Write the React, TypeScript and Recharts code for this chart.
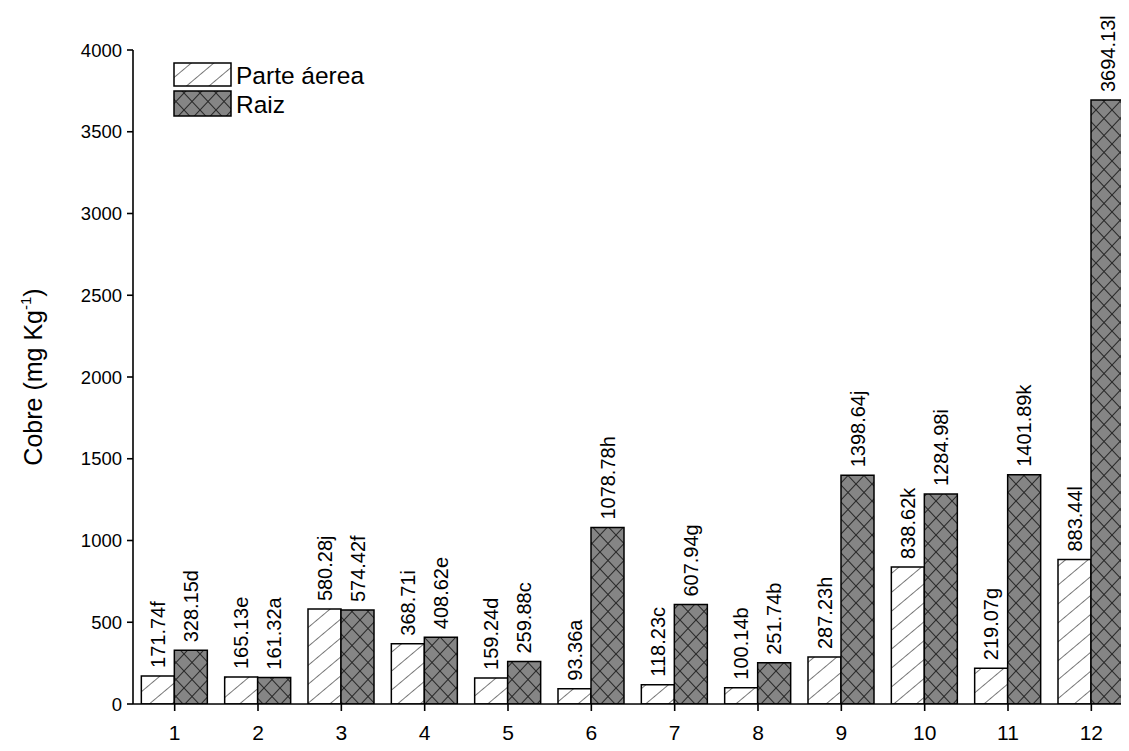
import React from "react";
import { BarChart, Bar, XAxis, YAxis, LabelList } from "recharts";

const categories = ["1", "2", "3", "4", "5", "6", "7", "8", "9", "10", "11", "12"];

const parteValues = [171.74, 165.13, 580.28, 368.71, 159.24, 93.36, 118.23, 100.14, 287.23, 838.62, 219.07, 883.44];
const parteLetters = ["f", "e", "j", "i", "d", "a", "c", "b", "h", "k", "g", "l"];

const raizValues = [328.15, 161.32, 574.42, 408.62, 259.88, 1078.78, 607.94, 251.74, 1398.64, 1284.98, 1401.89, 3694.13];
const raizLetters = ["d", "a", "f", "e", "c", "h", "g", "b", "j", "i", "k", "l"];

const yTicks = [0, 500, 1000, 1500, 2000, 2500, 3000, 3500, 4000];

const FONT = "Arial, 'Liberation Sans', Helvetica, sans-serif";

const data = categories.map((cat, i) => ({
  cat,
  parte: parteValues[i],
  raiz: raizValues[i],
}));

// vertical value + significance letter above each bar
const makeLabel = (letters: string[]) => (props: any) => {
  const { x, y, width, value, index } = props;
  const cx = Number(x) + Number(width) / 2;
  const top = Number(y) - 8;
  return (
    <text
      x={cx}
      y={top}
      transform={`rotate(-90 ${cx} ${top})`}
      dy="0.36em"
      textAnchor="start"
      fontSize={20}
      fontFamily={FONT}
      fill="#000"
    >
      {Number(value).toFixed(2) + letters[index]}
    </text>
  );
};

export default function App() {
  return (
    <div style={{ width: 1121, height: 743, fontFamily: FONT }}>
      <BarChart
        width={1121}
        height={743}
        data={data}
        margin={{ top: 42, right: 0, bottom: 7, left: 0 }}
        barCategoryGap="10%"
        barGap={0}
      >
        <defs>
          <pattern
            id="hatchParte"
            patternUnits="userSpaceOnUse"
            width={14.5}
            height={14.5}
            patternTransform="rotate(50)"
          >
            <rect width={14.5} height={14.5} fill="#fff" />
            <line x1={0} y1={0} x2={0} y2={14.5} stroke="#333" strokeWidth={1.3} />
          </pattern>
          <pattern id="hatchRaiz" patternUnits="userSpaceOnUse" width={16} height={17}>
            <rect width={16} height={17} fill="#858585" />
            <line x1={0} y1={0} x2={16} y2={17} stroke="#2a2a2a" strokeWidth={1.1} />
            <line x1={16} y1={0} x2={0} y2={17} stroke="#2a2a2a" strokeWidth={1.1} />
          </pattern>
        </defs>

        <XAxis
          dataKey="cat"
          height={40}
          padding={{ left: 0, right: -4 }}
          axisLine={{ stroke: "#000", strokeWidth: 1.6 }}
          tickLine={{ stroke: "#000", strokeWidth: 1.6 }}
          tickSize={7}
          tickMargin={14}
          tick={{ fill: "#000", fontSize: 21, fontFamily: FONT }}
          interval={0}
        />
        <YAxis
          width={125}
          domain={[0, 4000]}
          ticks={yTicks}
          allowDataOverflow
          axisLine={{ stroke: "#000", strokeWidth: 1.6 }}
          tickLine={{ stroke: "#000", strokeWidth: 1.6 }}
          tickSize={6}
          tickMargin={5}
          tick={{ fill: "#000", fontSize: 18.5, fontFamily: FONT }}
        />

        <Bar dataKey="parte" fill="url(#hatchParte)" stroke="#000" strokeWidth={1.5} isAnimationActive={false}>
          <LabelList dataKey="parte" content={makeLabel(parteLetters)} />
        </Bar>
        <Bar dataKey="raiz" fill="url(#hatchRaiz)" stroke="#000" strokeWidth={1.5} isAnimationActive={false}>
          <LabelList dataKey="raiz" content={makeLabel(raizLetters)} />
        </Bar>

        {/* axis title */}
        <text
          transform="translate(34,369) rotate(-90)"
          textAnchor="middle"
          fontSize={25}
          fontFamily={FONT}
          fill="#000"
        >
          Cobre (mg Kg
          <tspan dy={-11} fontSize={15}>-1</tspan>
          <tspan dy={11}>)</tspan>
        </text>

        {/* legend */}
        <g fontFamily={FONT} fontSize={24.5} fill="#000">
          <rect x={166} y={55} width={57} height={23} fill="url(#hatchParte)" stroke="#000" strokeWidth={1.5} />
          <text x={228} y={67} dy="0.36em">Parte áerea</text>
          <rect x={166} y={83} width={57} height={25} fill="url(#hatchRaiz)" stroke="#000" strokeWidth={1.5} />
          <text x={228} y={96} dy="0.36em">Raiz</text>
        </g>
      </BarChart>
    </div>
  );
}
